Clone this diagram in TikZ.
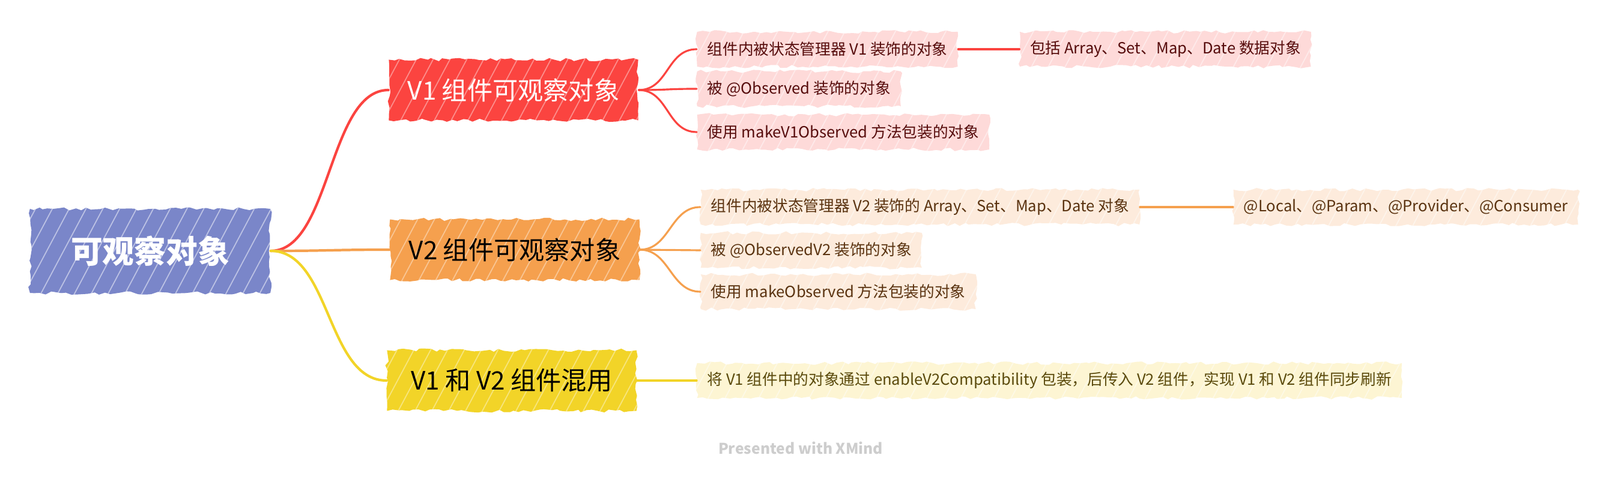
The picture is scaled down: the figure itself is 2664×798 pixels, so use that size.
\documentclass[tikz,border=0pt]{standalone}
\usepackage{fontspec}
\setmainfont{Noto Sans CJK SC}
\definecolor{omRoot}{HTML}{7A86C9}
\definecolor{omRed}{HTML}{FB4440}
\definecolor{omOrange}{HTML}{F5A04E}
\definecolor{omYellow}{HTML}{F2D428}
\definecolor{omRedLight}{HTML}{FEDAD9}
\definecolor{omOrangeLight}{HTML}{FDEBDC}
\definecolor{omYellowLight}{HTML}{FDF5D3}
\definecolor{omRedText}{HTML}{560C0C}
\definecolor{omOrangeText}{HTML}{5A3310}
\definecolor{omYellowText}{HTML}{5A4A0C}
\definecolor{omGray}{HTML}{CDCDCD}
\usetikzlibrary{positioning, decorations.pathmorphing}

\begin{document}
\begin{tikzpicture}[x=0.01cm, y=-0.01cm,
  every node/.style={align=center, inner sep=0pt},
  rough/.style={decorate, decoration={random steps, segment length=2.5pt, amplitude=0.8pt}},
  hatch/.style={path picture={
      \foreach \k in {0,...,50}
        \draw[white, opacity=#1, line width=0.5pt]
          ([xshift={\k*0.28cm-1.2cm}]path picture bounding box.south west) -- ++(62:4cm);
    }},
  rootbox/.style={rough, hatch=0.5, fill=omRoot, text=white, minimum width=4cm,
                  minimum height=1.4cm, font=\bfseries\fontsize{15}{18}\selectfont},
  topic/.style={rough, hatch=0.4, minimum width=4.15cm, minimum height=1.01cm,
                font=\fontsize{12}{14}\selectfont},
  sub/.style={rough, hatch=0.45, anchor=west, inner xsep=0.17cm, minimum height=0.58cm,
              font=\fontsize{7.3}{9}\selectfont},
  subR/.style={sub, fill=omRedLight, text=omRedText},
  subO/.style={sub, fill=omOrangeLight, text=omOrangeText},
  subY/.style={sub, fill=omYellowLight, text=omYellowText},
  branch/.style={line width=1.2pt, line cap=round},
  twig/.style={line width=0.9pt, line cap=round}
]
  \useasboundingbox (0,0) rectangle (2664,798);

  % central topic and main topics
  \node[rootbox] (root) at (250,418) {可观察对象};
  \node[topic, fill=omRed, text=white] (v1) at (855,150) {V1 组件可观察对象};
  \node[topic, fill=omOrange, text=black] (v2) at (857,416) {V2 组件可观察对象};
  \node[topic, fill=omYellow, text=black] (mix) at (852,634) {V1 和 V2 组件混用};

  % V1 subtopics
  \node[subR] (v1state) at (1160,82) {组件内被状态管理器 V1 装饰的对象};
  \node[subR, right=1.02cm of v1state] (v1types) {包括 Array、Set、Map、Date 数据对象};
  \node[subR] (v1observed) at (1160,148) {被 @Observed 装饰的对象};
  \node[subR] (v1make) at (1160,220) {使用 makeV1Observed 方法包装的对象};

  % V2 subtopics
  \node[subO] (v2state) at (1166,345) {组件内被状态管理器 V2 装饰的 Array、Set、Map、Date 对象};
  \node[subO, right=1.55cm of v2state] (v2deco) {@Local、@Param、@Provider、@Consumer};
  \node[subO] (v2observed) at (1166,417) {被 @ObservedV2 装饰的对象};
  \node[subO] (v2make) at (1166,486) {使用 makeObserved 方法包装的对象};

  % mixed use
  \node[subY] (compat) at (1160,634) {将 V1 组件中的对象通过 enableV2Compatibility 包装，后传入 V2 组件，实现 V1 和 V2 组件同步刷新};

  \node[font=\bfseries\fontsize{7}{8}\selectfont, text=omGray] (credit) at (1333,746) {Presented with XMind};

  % connectors
  \draw[branch, omRed] (root.east) .. controls +(100,0) and +(-100,0) .. (v1.west);
  \draw[branch, omOrange] (root.east) .. controls +(100,0) and +(-100,0) .. (v2.west);
  \draw[branch, omYellow] (root.east) .. controls +(100,0) and +(-100,0) .. (mix.west);

  \draw[twig, omRed] (v1.east) .. controls +(50,0) and +(-50,0) .. (v1state.west);
  \draw[twig, omRed] (v1.east) .. controls +(50,0) and +(-50,0) .. (v1observed.west);
  \draw[twig, omRed] (v1.east) .. controls +(50,0) and +(-50,0) .. (v1make.west);
  \draw[twig, omRed] (v1state) -- (v1types);

  \draw[twig, omOrange] (v2.east) .. controls +(50,0) and +(-50,0) .. (v2state.west);
  \draw[twig, omOrange] (v2.east) .. controls +(50,0) and +(-50,0) .. (v2observed.west);
  \draw[twig, omOrange] (v2.east) .. controls +(50,0) and +(-50,0) .. (v2make.west);
  \draw[twig, omOrange] (v2state) -- (v2deco);

  \draw[twig, omYellow] (mix) -- (compat);
\end{tikzpicture}
\end{document}
